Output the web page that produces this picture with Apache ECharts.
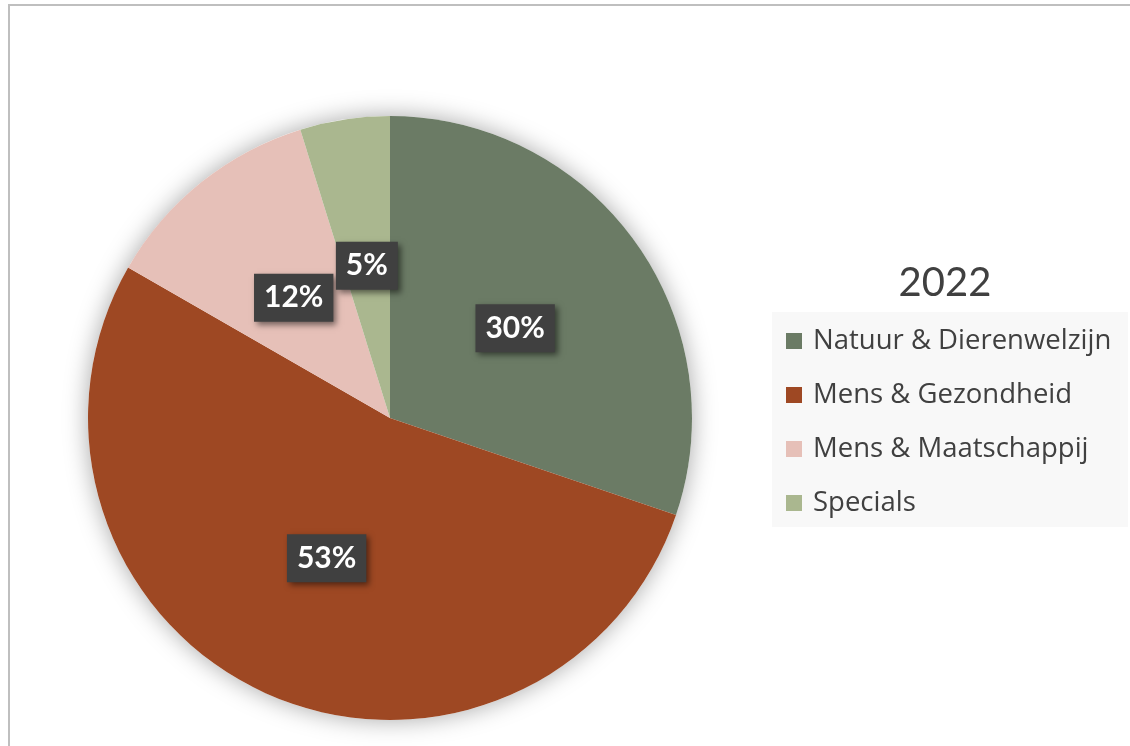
<!DOCTYPE html>
<html>
<head>
<meta charset="utf-8">
<script src="https://cdn.jsdelivr.net/npm/echarts@6/dist/echarts.min.js"></script>
<style>
html,body{margin:0;padding:0;background:#fff;}
#chart{width:1130px;height:746px;}
</style>
</head>
<body>
<div id="chart"></div>
<script>
const title = '2022';
const categories = ['Natuur & Dierenwelzijn', 'Mens & Gezondheid', 'Mens & Maatschappij', 'Specials'];
const values = [30.2, 53.1, 11.9, 4.8];
const colors = ['#6b7b65', '#9e4823', '#e6c0b8', '#aab78f'];

const chart = echarts.init(document.getElementById('chart'));
const font = 'Lato, "Open Sans", sans-serif';
const legendFont = '"Open Sans", Lato, sans-serif';

chart.setOption({
  animation: false,
  title: {
    text: title,
    left: 940, top: 258, textAlign: 'center',
    textStyle: {fontFamily: font, fontSize: 40, fontWeight: 'normal', color: '#404040'}
  },
  graphic: [
    {type: 'rect', shape: {x: 9, y: 5, width: 1200, height: 800}, style: {fill: 'none', stroke: '#bfbfbf', lineWidth: 2}, z: -10},
    {type: 'rect', shape: {x: 772, y: 312, width: 356, height: 215}, style: {fill: '#f8f8f8'}, z: -5}
  ],
  legend: {
    orient: 'vertical',
    left: 772, top: 312,
    padding: [15, 6, 10, 14],
    itemGap: 26,
    itemWidth: 16, itemHeight: 16,
    icon: 'rect',
    data: categories,
    textStyle: {fontFamily: legendFont, fontSize: 27.5, color: '#404040', lineHeight: 27, padding: [0, 0, 0, 6]}
  },
  series: [
    {
      type: 'pie', silent: true, z: 1,
      center: [390, 418], radius: 302,
      label: {show: false}, labelLine: {show: false},
      itemStyle: {color: '#ffffff', shadowBlur: 24, shadowColor: 'rgba(0,0,0,0.35)'},
      data: [{value: 1, name: '_bg'}]
    },
    {
      type: 'pie', z: 2,
      center: [390, 418], radius: 302,
      startAngle: 90, clockwise: true,
      data: categories.map((c, i) => ({name: c, value: values[i], itemStyle: {color: colors[i]}})),
      label: {
        show: true, position: 'inside',
        formatter: p => Math.round(p.percent) + '%',
        fontFamily: font, fontSize: 30, fontWeight: 'bold', color: '#ffffff',
        backgroundColor: '#404040',
        padding: [10, 10, 8, 10],
        shadowColor: 'rgba(0,0,0,0.5)', shadowBlur: 6, shadowOffsetX: 3, shadowOffsetY: 3
      },
      labelLine: {show: false},
      emphasis: {disabled: true}
    }
  ]
});
</script>
</body>
</html>
